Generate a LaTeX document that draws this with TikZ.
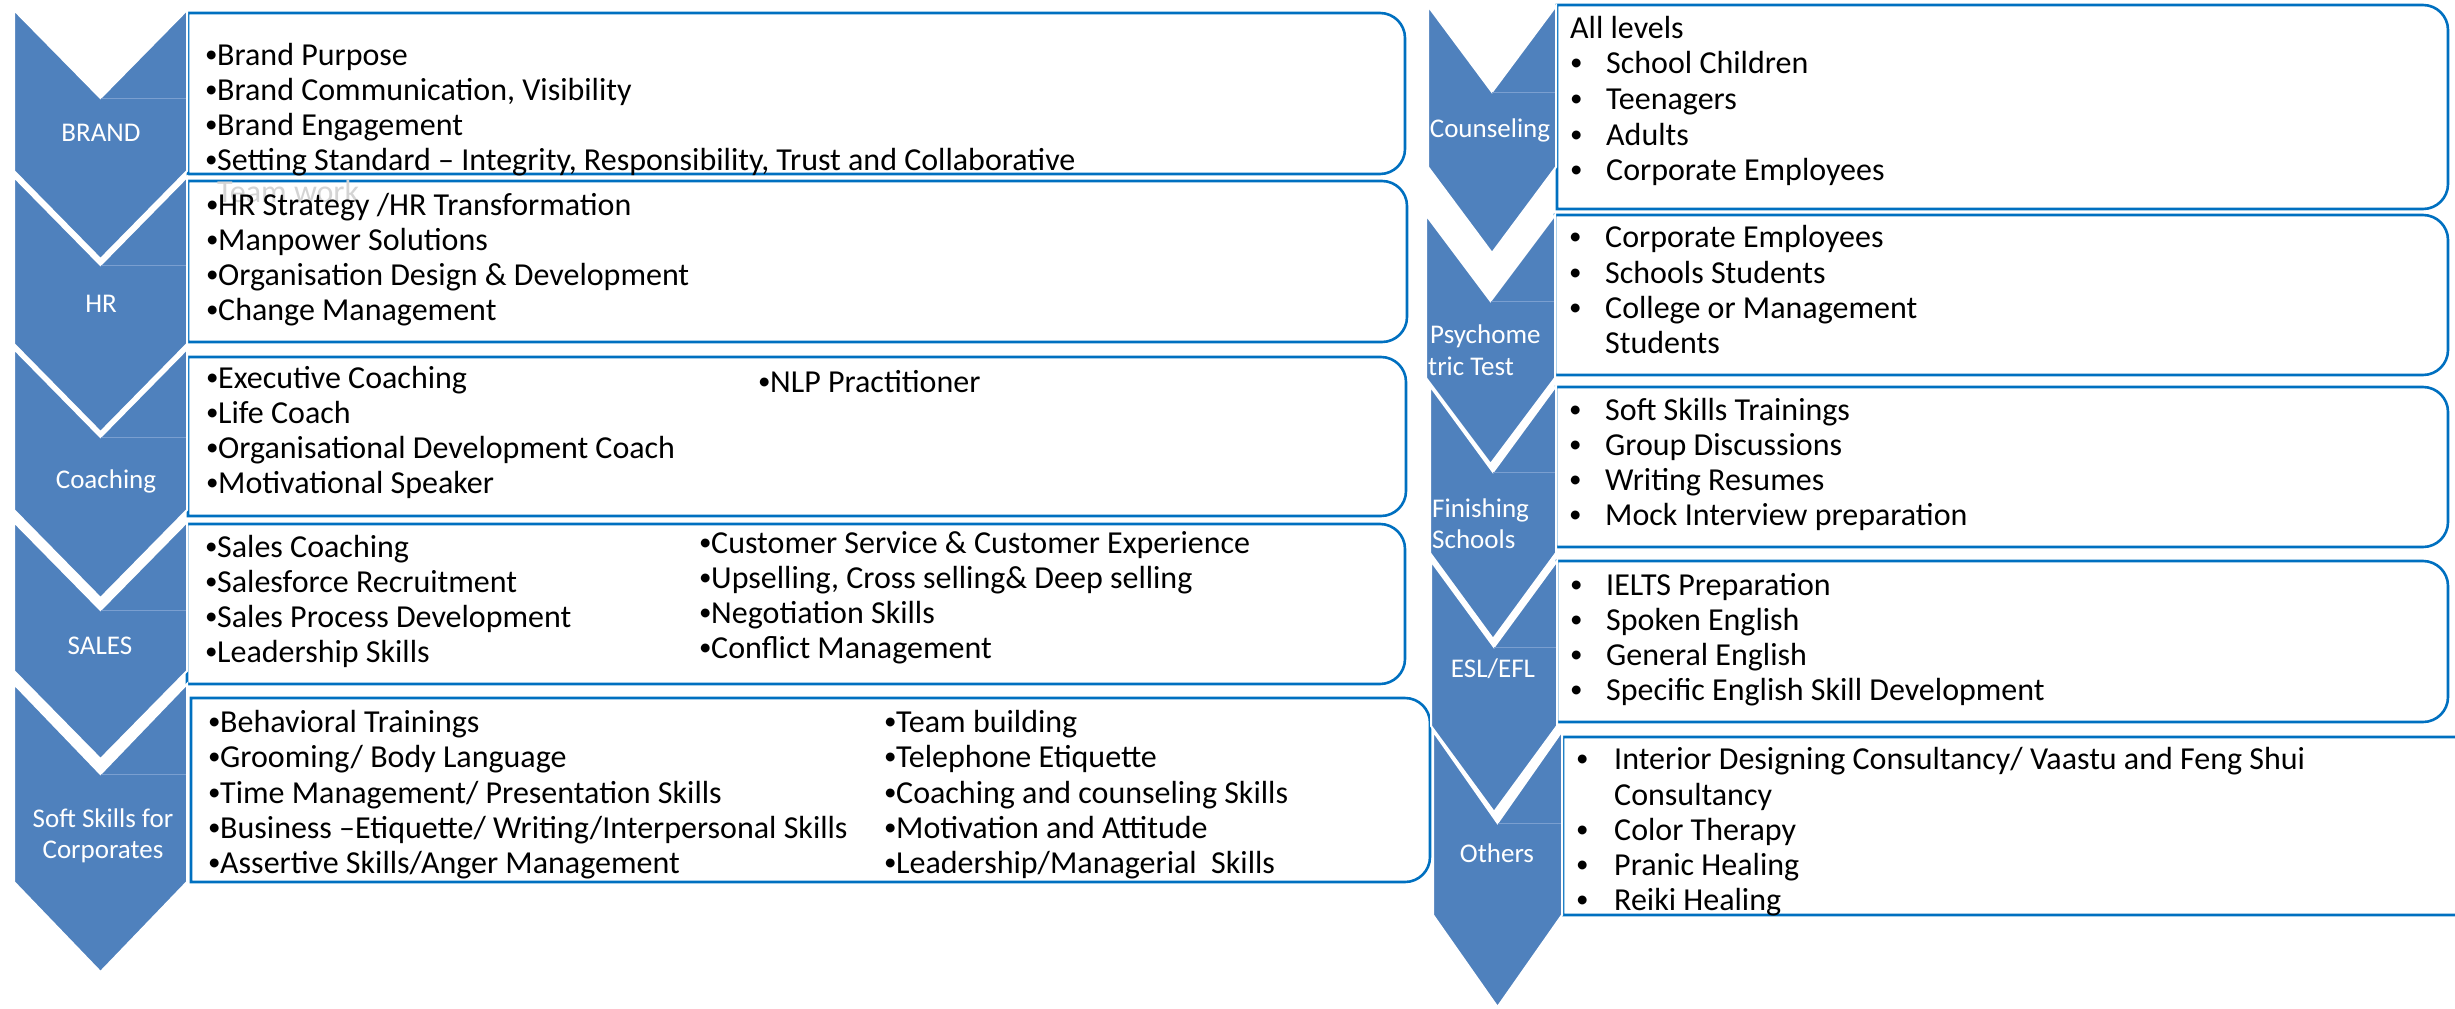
\documentclass[tikz,border=0pt]{standalone}
\usepackage{fontspec}
\setmainfont{Carlito}
\definecolor{chevblue}{HTML}{4F81BD}
\definecolor{boxblue}{HTML}{0070C0}
\definecolor{apexline}{HTML}{7A9FD0}
\definecolor{ghost}{HTML}{D4D4D4}
\tikzset{
 chevfill/.style={fill=chevblue, draw=white, line width=2pt, line join=miter},
 apexrule/.style={draw=apexline, line width=0.8pt},
 boxline/.style={draw=boxblue, fill=white, line width=2.6pt},
 bodytxt/.style={anchor=base west, inner sep=0pt, font=\fontsize{32}{35}\selectfont, text=black},
 lbl/.style={anchor=base, inner sep=0pt, font=\fontsize{27}{30}\selectfont, text=white},
 lbll/.style={lbl, anchor=base west},
}
\newcommand{\bdot}{\raisebox{2.5pt}{\fontsize{25}{25}\selectfont •}}
\newcommand{\lbul}{\makebox[12pt][l]{\bdot}}
\newcommand{\rbul}{\makebox[36pt][l]{\bdot}}
\newcommand{\obul}{\makebox[38pt][l]{\bdot}}
\newcommand{\myrbox}[4]{%
 \draw[boxline] (#1,#2) -- ({#3-25},#2) .. controls ({#3-11.2},#2) and (#3,{#2+11.2}) .. (#3,{#2+25})
   -- (#3,{#4-25}) .. controls (#3,{#4-11.2}) and ({#3-11.2},#4) .. ({#3-25},#4) -- (#1,#4) -- cycle;}
\newcommand{\mychev}[5]{%
 \draw[chevfill] (#1,#3) -- ({(#1+#2)/2},{#3+#5}) -- (#2,#3) -- (#2,#4) -- ({(#1+#2)/2},{#4+#5}) -- (#1,#4) -- cycle;
 \draw[apexrule] ({(#1+#2)/2},{#3+#5}) -- ({#2-1.5},{#3+#5});}
\begin{document}
\begin{tikzpicture}[x=1pt,y=-1pt]
\path[use as bounding box] (0,0) rectangle (2455,1009);
\clip (0,0) rectangle (2455,1009);
% ---------- left boxes
\myrbox{188}{13}{1405}{174}
\myrbox{188}{181}{1407}{342}
\myrbox{188}{357}{1406}{516}
\myrbox{187}{524}{1405}{684}
\myrbox{191}{698}{1430}{882}
% ---------- right boxes
\myrbox{1557}{5}{2448}{209}
\myrbox{1555}{215}{2448}{375}
\myrbox{1556}{387}{2448}{547}
\myrbox{1557}{561}{2448}{722}
\myrbox{1563}{737}{2490}{915}
% ---------- left chevrons
\mychev{14}{187}{10}{171}{88}
\mychev{14}{187}{177}{344}{88}
\mychev{14}{187}{349}{510}{88}
\mychev{14}{187}{522}{671}{88}
\mychev{14}{187}{684}{882}{90}
% ---------- right chevrons
\mychev{1428}{1556}{6}{167}{86}
\mychev{1426}{1555}{215}{378}{86}
\mychev{1430}{1556}{386}{553}{86}
\mychev{1431}{1557}{561}{726}{86}
\mychev{1433}{1562}{731}{915}{92}
% ---------- left labels
\node[lbl] (lBrand) at (101,141) {BRAND};
\node[lbl] (lHR) at (101,312) {HR};
\node[lbl] (lCoach) at (106,488) {Coaching};
\node[lbl] (lSales) at (100,654) {SALES};
\node[lbl] (lSoftA) at (103,827) {Soft Skills for};
\node[lbl] (lSoftB) at (103,858) {Corporates};
% ---------- right labels
\node[lbl] (lCouns) at (1490,137) {Counseling};
\node[lbll] (lPsyA) at (1430,343) {Psychome};
\node[lbll] (lPsyB) at (1428,375) {tric Test};
\node[lbll] (lFinA) at (1432,517) {Finishing};
\node[lbll] (lFinB) at (1432,548) {Schools};
\node[lbl] (lEsl) at (1493,677) {ESL/EFL};
\node[lbl] (lOth) at (1497,862) {Others};
% ---------- BRAND text
\node[bodytxt, text=ghost] (b5) at (217,202) {Team work};
\node[bodytxt] (b1) at (205,65) {\lbul Brand Purpose};
\node[bodytxt] (b2) at (205,100) {\lbul Brand Communication, Visibility};
\node[bodytxt] (b3) at (205,135) {\lbul Brand Engagement};
\node[bodytxt] (b4) at (205,170) {\lbul Setting Standard – Integrity, Responsibility, Trust and Collaborative};
% ---------- HR text
\node[bodytxt] (h1) at (206,215) {\lbul HR Strategy /HR Transformation};
\node[bodytxt] (h2) at (206,250) {\lbul Manpower Solutions};
\node[bodytxt] (h3) at (206,285) {\lbul Organisation Design \& Development};
\node[bodytxt] (h4) at (206,320) {\lbul Change Management};
% ---------- Coaching text
\node[bodytxt] (c1) at (206,388) {\lbul Executive Coaching};
\node[bodytxt] (c2) at (206,423) {\lbul Life Coach};
\node[bodytxt] (c3) at (206,458) {\lbul Organisational Development Coach};
\node[bodytxt] (c4) at (206,493) {\lbul Motivational Speaker};
\node[bodytxt] (c5) at (758,392) {\lbul NLP Practitioner};
% ---------- SALES text
\node[bodytxt] (s1) at (205,557) {\lbul Sales Coaching};
\node[bodytxt] (s2) at (205,592) {\lbul Salesforce Recruitment};
\node[bodytxt] (s3) at (205,627) {\lbul Sales Process Development};
\node[bodytxt] (s4) at (205,662) {\lbul Leadership Skills};
\node[bodytxt] (s5) at (699,553) {\lbul Customer Service \& Customer Experience};
\node[bodytxt] (s6) at (699,588) {\lbul Upselling, Cross selling\& Deep selling};
\node[bodytxt] (s7) at (699,623) {\lbul Negotiation Skills};
\node[bodytxt] (s8) at (699,658) {\lbul Conflict Management};
% ---------- Soft skills text
\node[bodytxt] (k1) at (208,732) {\lbul Behavioral Trainings};
\node[bodytxt] (k2) at (208,767) {\lbul Grooming/ Body Language};
\node[bodytxt] (k3) at (208,803) {\lbul Time Management/ Presentation Skills};
\node[bodytxt] (k4) at (208,838) {\lbul Business –Etiquette/ Writing/Interpersonal Skills};
\node[bodytxt] (k5) at (208,873) {\lbul Assertive Skills/Anger Management};
\node[bodytxt] (k6) at (884,732) {\lbul Team building};
\node[bodytxt] (k7) at (884,767) {\lbul Telephone Etiquette};
\node[bodytxt] (k8) at (884,803) {\lbul Coaching and counseling Skills};
\node[bodytxt] (k9) at (884,838) {\lbul Motivation and Attitude};
\node[bodytxt] (k10) at (884,873) {\lbul Leadership/Managerial\ \ Skills};
% ---------- Counseling text
\node[bodytxt] (r1) at (1570,38) {All levels};
\node[bodytxt] (r2) at (1570,73) {\rbul School Children};
\node[bodytxt] (r3) at (1570,109) {\rbul Teenagers};
\node[bodytxt] (r4) at (1570,145) {\rbul Adults};
\node[bodytxt] (r5) at (1570,180) {\rbul Corporate Employees};
% ---------- Psychometric text
\node[bodytxt] (p1) at (1569,247) {\rbul Corporate Employees};
\node[bodytxt] (p2) at (1569,283) {\rbul Schools Students};
\node[bodytxt] (p3) at (1569,318) {\rbul College or Management};
\node[bodytxt] (p4) at (1605,353) {Students};
% ---------- Finishing text
\node[bodytxt] (f1) at (1569,420) {\rbul Soft Skills Trainings};
\node[bodytxt] (f2) at (1569,455) {\rbul Group Discussions};
\node[bodytxt] (f3) at (1569,490) {\rbul Writing Resumes};
\node[bodytxt] (f4) at (1569,525) {\rbul Mock Interview preparation};
% ---------- ESL text
\node[bodytxt] (e1) at (1570,595) {\rbul IELTS Preparation};
\node[bodytxt] (e2) at (1570,630) {\rbul Spoken English};
\node[bodytxt] (e3) at (1570,665) {\rbul General English};
\node[bodytxt] (e4) at (1570,700) {\rbul Specific English Skill Development};
% ---------- Others text
\node[bodytxt] (o1) at (1576,769) {\obul Interior Designing Consultancy/ Vaastu and Feng Shui};
\node[bodytxt] (o2) at (1614,805) {Consultancy};
\node[bodytxt] (o3) at (1576,840) {\obul Color Therapy};
\node[bodytxt] (o4) at (1576,875) {\obul Pranic Healing};
\node[bodytxt] (o5) at (1576,910) {\obul Reiki Healing};
\end{tikzpicture}
\end{document}
